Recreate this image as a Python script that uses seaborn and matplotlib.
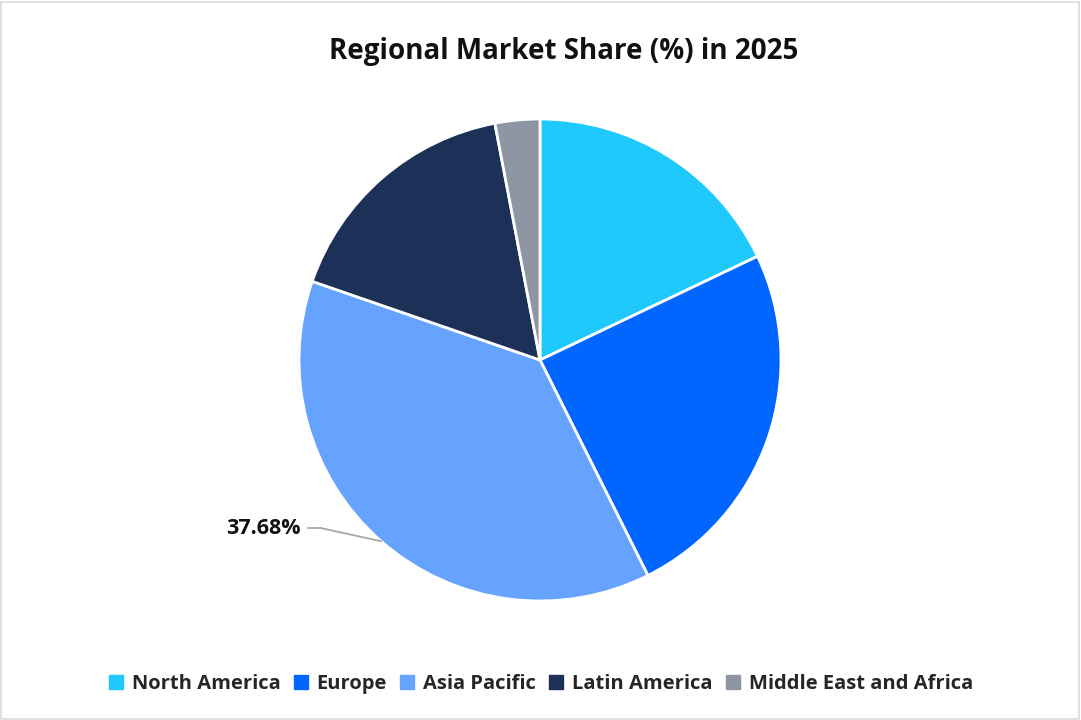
import matplotlib
matplotlib.use("Agg")
import matplotlib.pyplot as plt
import seaborn as sns
import numpy as np
from matplotlib.patches import Rectangle
from matplotlib.lines import Line2D

regions = ["North America", "Europe", "Asia Pacific", "Latin America", "Middle East and Africa"]
shares = [17.92, 24.69, 37.68, 16.71, 3.00]
colors = ["#1FC9FC", "#0066FF", "#66A3FF", "#1D3158", "#8F96A3"]
labelled = "Asia Pacific"

sns.set_theme(style="white")
plt.rcParams["font.family"] = ["Open Sans", "DejaVu Sans"]

W, H = 1081, 720
fig = plt.figure(figsize=(W / 100, H / 100), dpi=100)

# light frame round the whole chart
fig.patches.append(Rectangle((1 / W, 1 / H), 1 - 3 / W, 1 - 3 / H, transform=fig.transFigure,
                             fill=False, edgecolor="#D9D9D9", linewidth=1.2))

cx, cy, half = 540, 360, 250
ax = fig.add_axes([(cx - half) / W, (H - cy - half) / H, 2 * half / W, 2 * half / H])
r = 241 / half

wedges, _ = ax.pie(shares, colors=colors, startangle=90, counterclock=False,
                   radius=r, wedgeprops=dict(edgecolor="white", linewidth=2))
ax.set_xlim(-1, 1)
ax.set_ylim(-1, 1)
ax.set_aspect("equal")
ax.axis("off")

# data label with leader line for the largest slice
i = regions.index(labelled)
w = wedges[i]
mid = np.deg2rad((w.theta1 + w.theta2) / 2)
px, py = r * np.cos(mid), r * np.sin(mid)
ex, ey = (308 - cx) / half, (cy - 528) / half
ax.plot([px, ex + 0.05, ex], [py, ey, ey], color="#A6A6A6", linewidth=1.3, clip_on=False)
ax.text(ex - 0.03, ey, f"{shares[i]:.2f}%", ha="right", va="center",
        fontsize=15.5, fontweight="bold", color="#111111")

fig.text(564 / W, 1 - 51 / H, "Regional Market Share (%) in 2025", ha="center", va="center",
         fontsize=20, fontweight="bold", color="#111111")

handles = [Line2D([], [], marker="s", linestyle="", markersize=9.5, markerfacecolor=c,
                  markeredgecolor=c) for c in colors]
fig.legend(handles, regions, loc="center", bbox_to_anchor=(0.5, 1 - 684 / H), ncol=5,
           frameon=False, handlelength=0.8, handletextpad=0.4, columnspacing=0.6,
           prop=dict(size=14.5, weight="bold"))

fig.savefig("out.png", dpi=100)
